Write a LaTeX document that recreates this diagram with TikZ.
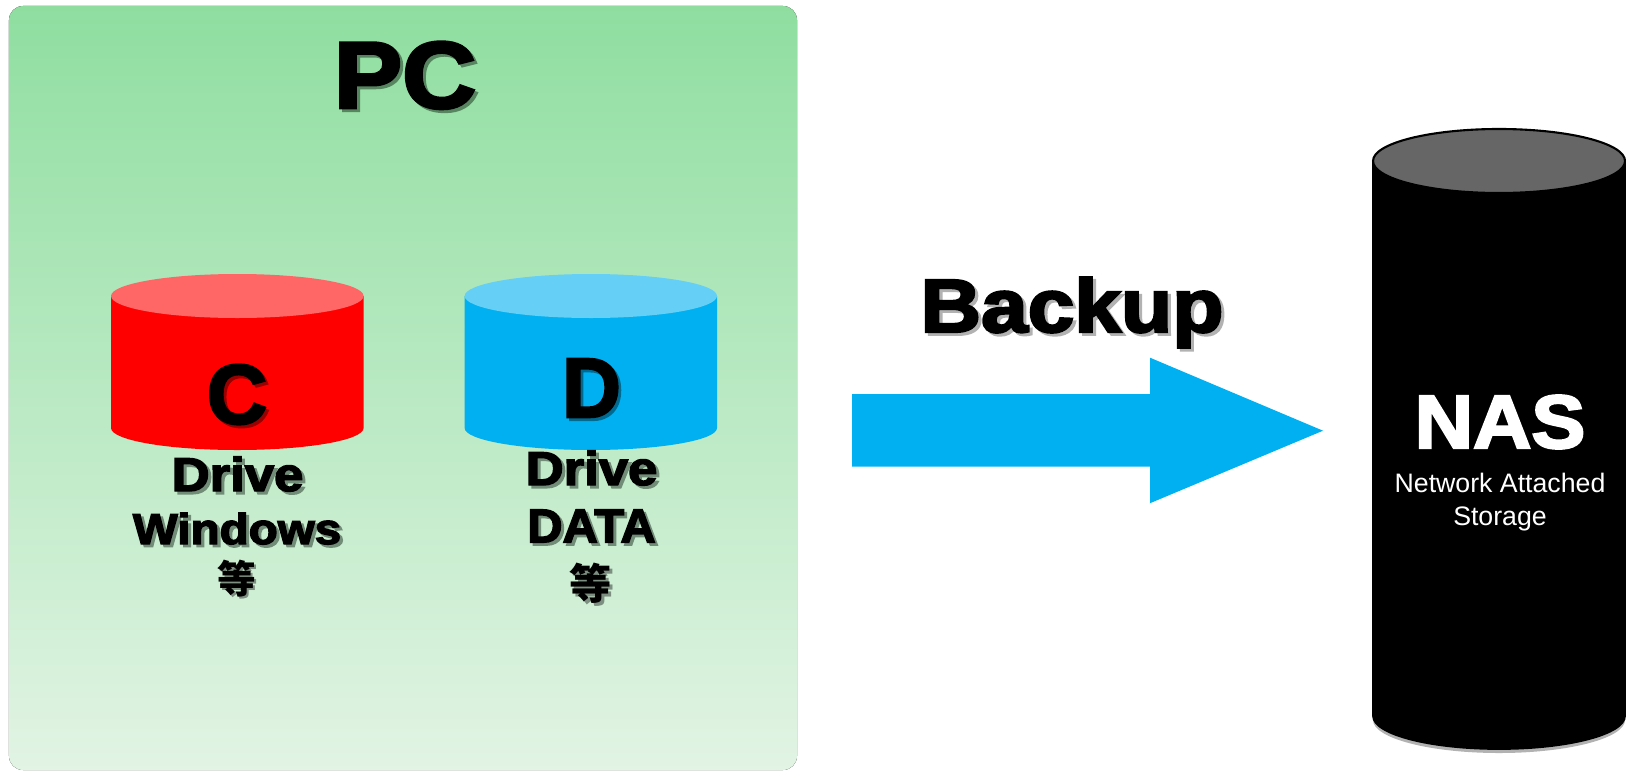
\documentclass[tikz,border=0pt]{standalone}
\usepackage{fontspec}
\setmainfont{Liberation Sans}[BoldFeatures={FakeBold=3}]
\newfontfamily\cjkfont{Noto Sans CJK SC}
\usepackage{tikz}

\definecolor{panelTop}{HTML}{8FDEA0}
\definecolor{panelMid}{HTML}{BDE9C6}
\definecolor{panelBottom}{HTML}{D0EED6}
\definecolor{panelEnd}{HTML}{E2F4E4}
\definecolor{driveRed}{HTML}{FF0000}
\definecolor{driveRedTop}{HTML}{FF6666}
\definecolor{driveBlue}{HTML}{00B0F0}
\definecolor{driveBlueTop}{HTML}{66CFF6}
\definecolor{nasTop}{HTML}{666666}

\newcommand{\shadowtext}[2]{\leavevmode\rlap{\kern.8pt\raisebox{-.8pt}{\textcolor{#1}{#2}}}#2}
\newcommand{\heavy}[1]{\fontsize{#1}{#1}\selectfont\bfseries}

\begin{document}
\begin{tikzpicture}[auto,
    lbl/.style={anchor=base, inner sep=0pt, outer sep=0pt, transform shape}]

    \useasboundingbox (0, 0) rectangle (16.26, 7.70);

    \fill [top color=panelTop, bottom color=panelEnd, rounded corners=0.14cm] (0.09, 0.00) rectangle (7.97, 7.64);

    \fill [driveRed] (1.11, 4.74) -- (1.11, 3.42) arc [start angle=180, end angle=360, x radius=1.263, y radius=0.22] -- (3.636, 4.74) -- cycle;
    \fill [driveRedTop] (2.373, 4.74) ellipse [x radius=1.263, y radius=0.22];

    \fill [driveBlue] (4.646, 4.74) -- (4.646, 3.42) arc [start angle=180, end angle=360, x radius=1.262, y radius=0.22] -- (7.17, 4.74) -- cycle;
    \fill [driveBlueTop] (5.908, 4.74) ellipse [x radius=1.262, y radius=0.22];

    \fill [black!30] (13.73, 6.06) -- (13.73, 0.50) arc [start angle=180, end angle=360, x radius=1.26, y radius=0.33] -- (16.25, 6.06) -- cycle;
    \draw [fill=black, line width=0.5pt] (13.73, 6.09) -- (13.73, 0.54) arc [start angle=180, end angle=360, x radius=1.26, y radius=0.33] -- (16.25, 6.09) -- cycle;
    \draw [fill=nasTop, line width=0.6pt] (14.99, 6.09) ellipse [x radius=1.26, y radius=0.32];

    \coordinate (tail) at (8.52, 3.393);
    \coordinate (tip) at (13.23, 3.393);
    \fill [driveBlue] (tail) ++(0, 0.365) -- ++(2.98, 0) -- ++(0, 0.365) -- (tip) -- ++(-1.73, -0.725) -- ++(0, 0.365) -- ++(-2.98, 0) -- cycle;

    \node [lbl, xscale=1.08] (pc) at (4.05, 6.62) {\heavy{27}\shadowtext{black!40!panelTop}{PC}};
    \node [lbl, xscale=1.11] (backup) at (10.72, 4.38) {\heavy{21.5}\shadowtext{black!30}{Backup}};

    \node [lbl, xscale=0.99] (cletter) at (2.37, 3.465) {\heavy{24}\shadowtext{driveRed!60!black}{C}};
    \node [lbl, xscale=1.11] (cdrive) at (2.375, 2.79) {\heavy{13.5}\shadowtext{black!40!panelMid}{Drive}};
    \node [lbl, xscale=1.10] (cwin) at (2.37, 2.26) {\heavy{12.3}\shadowtext{black!40!panelMid}{Windows}};
    \node [lbl] (cetc) at (2.365, 1.77) {\cjkfont\heavy{11}\shadowtext{black!40!panelBottom}{等}};

    \node [lbl, xscale=0.96] (dletter) at (5.915, 3.53) {\heavy{24}\shadowtext{driveBlue!60!black}{D}};
    \node [lbl, xscale=1.11] (ddrive) at (5.915, 2.85) {\heavy{13.5}\shadowtext{black!40!panelMid}{Drive}};
    \node [lbl, xscale=1.03] (ddata) at (5.915, 2.277) {\heavy{13.5}\shadowtext{black!40!panelMid}{DATA}};
    \node [lbl] (detc) at (5.91, 1.705) {\cjkfont\heavy{12}\shadowtext{black!40!panelBottom}{等}};

    \node [lbl, xscale=1.07, text=white] (nas) at (15.00, 3.22) {\heavy{21.5}NAS};
    \node [inner sep=0pt, align=center, text=white, font=\fontsize{7.6}{9.2}\selectfont] (nasname) at (15.00, 2.68) {Network Attached\\Storage};

\end{tikzpicture}
\end{document}
